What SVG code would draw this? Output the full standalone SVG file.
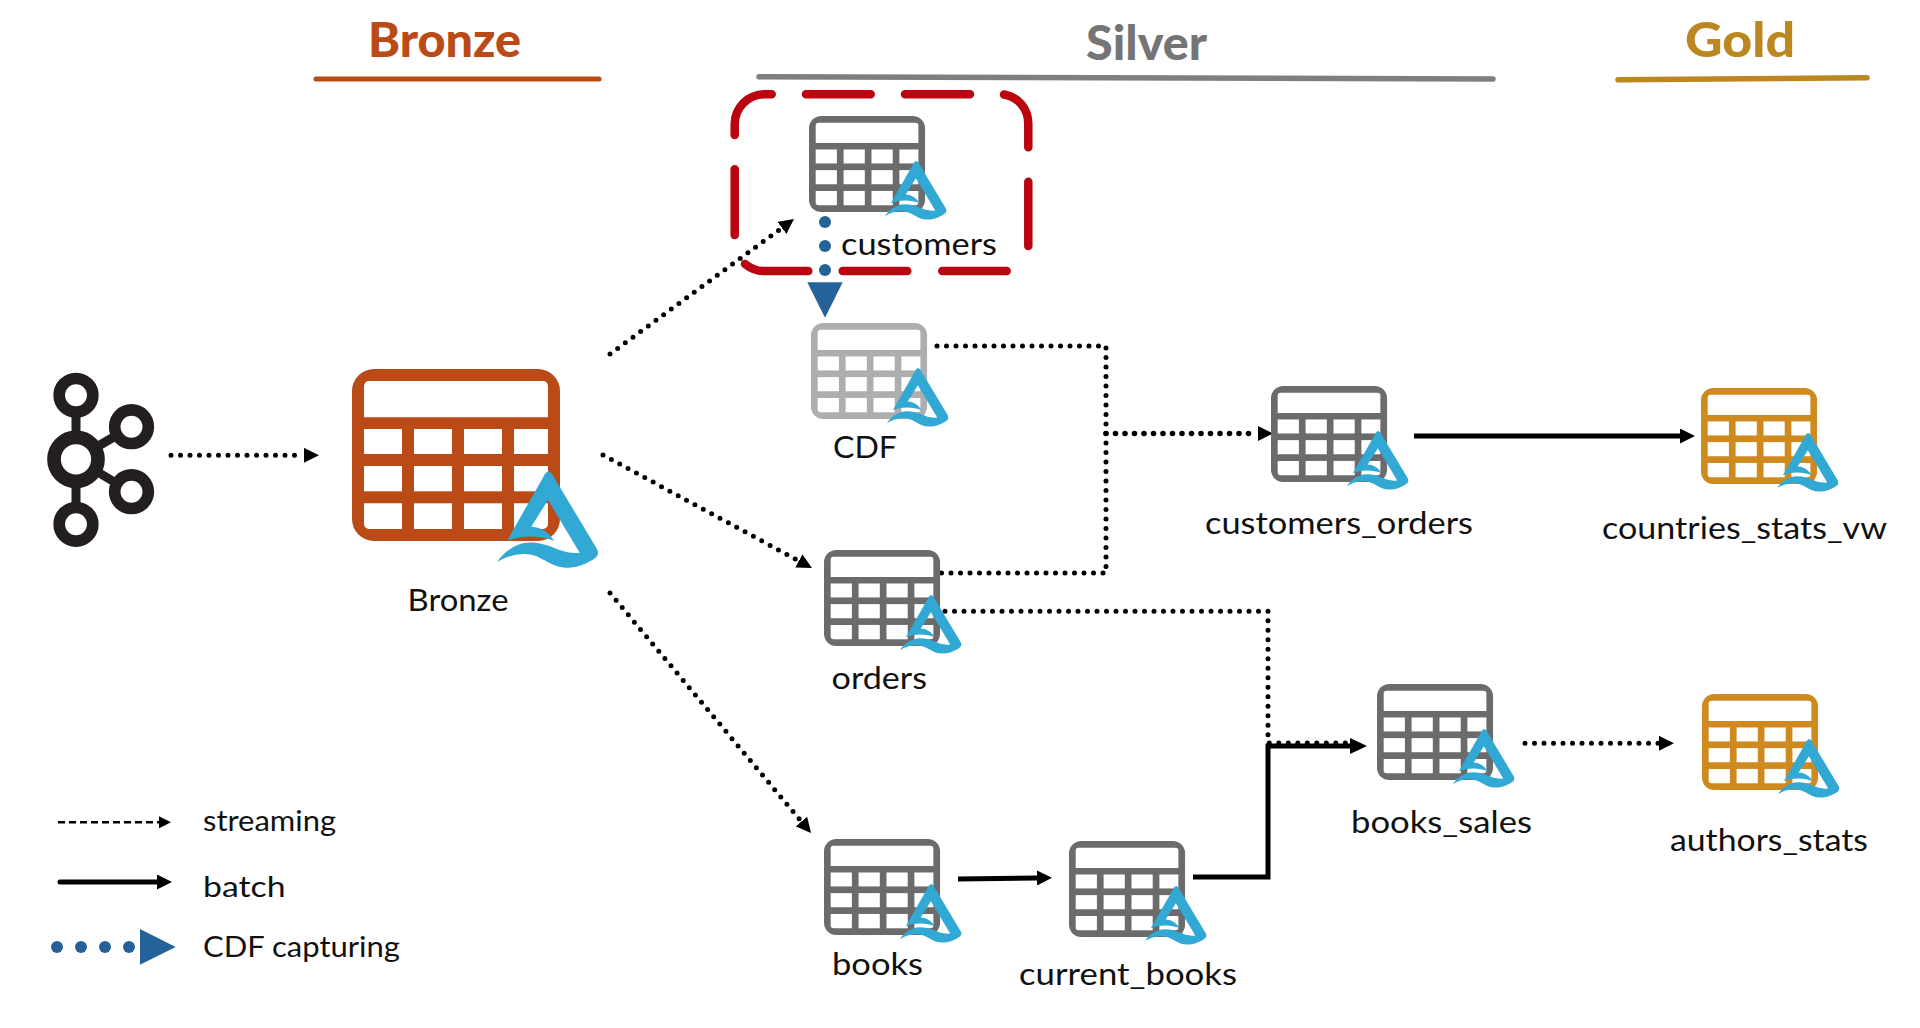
<svg xmlns="http://www.w3.org/2000/svg" xmlns:xlink="http://www.w3.org/1999/xlink" width="1920" height="1028" viewBox="0 0 1920 1028">
<style>
text{font-family:"Lato","Liberation Sans",sans-serif;}
.lbl{font-size:31px;fill:#111;}
.leg{font-size:29px;fill:#111;}
.ttl{font-size:47px;font-weight:900;}
.dot{fill:none;stroke:#000;stroke-width:5;stroke-linecap:round;stroke-dasharray:0 9.5;}
.sol{fill:none;stroke:#000;stroke-width:5;}
.cdf{fill:#256299;}
.gray{color:#6b6b6b;}.light{color:#aeaeae;}.gold{color:#cf8a1f;}
</style>
<defs>
<marker id="mS" markerUnits="userSpaceOnUse" markerWidth="15" markerHeight="15" viewBox="0 0 15 15" refX="0" refY="7.5" orient="auto"><path d="M0,0L15,7.5L0,15Z" fill="#000"/></marker>
<marker id="mB" markerUnits="userSpaceOnUse" markerWidth="17" markerHeight="16" viewBox="0 0 17 16" refX="0" refY="8" orient="auto"><path d="M0,0L17,8L0,16Z" fill="#000"/></marker>
<marker id="mT" markerUnits="userSpaceOnUse" markerWidth="12" markerHeight="12" viewBox="0 0 12 12" refX="0" refY="6" orient="auto"><path d="M0,0L12,6L0,12Z" fill="#000"/></marker>
<g id="grid">
<rect width="208" height="172" rx="22" fill="currentColor"/>
<g fill="#fff">
<path d="M12,48.3V17a5,5 0 0 1 5,-5H191a5,5 0 0 1 5,5V48.3Z"/>
<rect x="12" y="60" width="38" height="25"/><rect x="62" y="60" width="38" height="25"/><rect x="112" y="60" width="38" height="25"/><rect x="162" y="60" width="34" height="25"/>
<rect x="12" y="97" width="38" height="25.3"/><rect x="62" y="97" width="38" height="25.3"/><rect x="112" y="97" width="38" height="25.3"/><rect x="162" y="97" width="34" height="25.3"/>
<path d="M12,134.3H50V160H17a5,5 0 0 1 -5,-5Z"/><rect x="62" y="134.3" width="38" height="25.7"/><rect x="112" y="134.3" width="38" height="25.7"/><path d="M162,134.3H196V155a5,5 0 0 1 -5,5H162Z"/>
</g>
</g>
<path id="delta" fill="#31a9d4" d="M155,171.7L193,105Q196.3,100 200,105L245,180Q248,186 242,190C230,197 222,199 215,198.7C195,198 190,184 170,185C158,186 150,190 145.3,193C150,185 163,173.5 178,173.5C200,173.5 208,186 227.7,183.7L196,131L179.3,157.7C190,158 198,165 202,171.7C190,167 172,165 155,171.7Z"/>
<g id="tbl"><use href="#grid" transform="scale(.558)"/><use href="#delta" transform="translate(-12.7,-17.6) scale(.61)"/></g>
</defs>

<g id="connectors">
<path class="dot" d="M171,455.3H304" marker-end="url(#mS)"/>
<path class="dot" d="M610,354L781.9,227.9" marker-end="url(#mS)"/>
<path class="dot" d="M603,455L798.8,560.9" marker-end="url(#mS)"/>
<path class="dot" d="M610,593L801.4,821.5" marker-end="url(#mS)"/>
<path class="dot" d="M937,346H1106V573H940"/>
<path class="dot" d="M1106,433.5H1258" style="stroke-width:5.6" marker-end="url(#mS)"/>
<path class="dot" d="M945,611.3H1268V743H1350"/>
<path class="dot" d="M1525,743.3H1659" marker-end="url(#mS)"/>
<path class="sol" d="M1193,877H1268V746H1350" marker-end="url(#mB)"/>
<path class="sol" d="M958,879L1037,878" marker-end="url(#mS)"/>
<path class="sol" d="M1414,436H1680" marker-end="url(#mS)"/>
<g class="cdf"><circle cx="825" cy="222" r="6"/><circle cx="825" cy="246" r="6"/><circle cx="825" cy="270" r="6"/><path d="M807.3,282.3H842.7L825,317.7Z"/></g>
</g>

<g id="headers">
<text class="ttl" x="368" y="57" fill="#ba4a16" textLength="153" lengthAdjust="spacingAndGlyphs">Bronze</text>
<path d="M316,79H599" stroke="#ba4a16" stroke-width="5" stroke-linecap="round"/>
<text class="ttl" x="1086" y="60" fill="#757575" textLength="121" lengthAdjust="spacingAndGlyphs">Silver</text>
<path d="M759,76.7L1493,79" stroke="#7f7f7f" stroke-width="5.5" stroke-linecap="round"/>
<text class="ttl" x="1685" y="57.3" fill="#bc8720" textLength="110" lengthAdjust="spacingAndGlyphs">Gold</text>
<path d="M1618,79.7L1867,77.7" stroke="#bc8720" stroke-width="5.5" stroke-linecap="round"/>
</g>

<g id="kafka" fill="none" stroke="#231f1f">
<path stroke-width="9" d="M76,395V524M76,459L131,427M76,459L131,492"/>
<circle cx="76" cy="395.3" r="16.8" fill="#fff" stroke-width="11.7"/>
<circle cx="76" cy="524.3" r="16.8" fill="#fff" stroke-width="11.7"/>
<circle cx="131.5" cy="426.7" r="16.8" fill="#fff" stroke-width="11.7"/>
<circle cx="131.5" cy="491.7" r="16.8" fill="#fff" stroke-width="11.7"/>
<circle cx="76" cy="459.3" r="22" fill="#fff" stroke-width="13.7"/>
</g>

<g id="bronze"><use href="#grid" transform="translate(352,369)" style="color:#ba4a16"/><use href="#delta" transform="translate(352,369)"/><text class="lbl" x="407.5" y="611" textLength="101" lengthAdjust="spacingAndGlyphs">Bronze</text></g>
<g id="customers"><use href="#tbl" class="gray" transform="translate(809,116)"/><text class="lbl" x="841" y="255" textLength="156" lengthAdjust="spacingAndGlyphs">customers</text></g>
<g id="cdf"><use href="#tbl" class="light" transform="translate(811,323)"/><text class="lbl" x="833" y="458" textLength="64" lengthAdjust="spacingAndGlyphs">CDF</text></g>
<g id="orders"><use href="#tbl" class="gray" transform="translate(824,550)"/><text class="lbl" x="831.6" y="688.6" textLength="95.4" lengthAdjust="spacingAndGlyphs">orders</text></g>
<g id="books"><use href="#tbl" class="gray" transform="translate(824,839)"/><text class="lbl" x="832" y="975" textLength="91" lengthAdjust="spacingAndGlyphs">books</text></g>
<g id="current_books"><use href="#tbl" class="gray" transform="translate(1069,841)"/><text class="lbl" x="1019" y="985" textLength="218" lengthAdjust="spacingAndGlyphs">current_books</text></g>
<g id="customers_orders"><use href="#tbl" class="gray" transform="translate(1271,386)"/><text class="lbl" x="1205" y="534" textLength="268" lengthAdjust="spacingAndGlyphs">customers_orders</text></g>
<g id="books_sales"><use href="#tbl" class="gray" transform="translate(1377,684)"/><text class="lbl" x="1351" y="833" textLength="181" lengthAdjust="spacingAndGlyphs">books_sales</text></g>
<g id="countries_stats_vw"><use href="#tbl" class="gold" transform="translate(1701,388)"/><text class="lbl" x="1602" y="539" textLength="285" lengthAdjust="spacingAndGlyphs">countries_stats_vw</text></g>
<g id="authors_stats"><use href="#tbl" class="gold" transform="translate(1702,694)"/><text class="lbl" x="1670" y="851" textLength="198" lengthAdjust="spacingAndGlyphs">authors_stats</text></g>

<g id="highlight"><path fill="none" stroke="#bb0410" stroke-width="8.5" stroke-linecap="round" d="M734.7,135V124.3A30,30 0 0 1 764.7,94.3H771.7M806,94.3H870.7M905,94.3H970M1004,94.5C1018,97 1028.3,108 1028.3,124V147.3M1028.3,181.7V246M1006.7,271H942.3M907.3,271H842.7M808.3,271H763C755,271 750,268 745,264M734.7,235V169.3"/></g>

<g id="legend">
<path d="M58,822.3H159" fill="none" stroke="#000" stroke-width="2.4" stroke-dasharray="7 4" marker-end="url(#mT)"/>
<text class="leg" x="203" y="830.7" textLength="133" lengthAdjust="spacingAndGlyphs">streaming</text>
<path d="M60,882H157" fill="none" stroke="#000" stroke-width="5" stroke-linecap="round" marker-end="url(#mS)"/>
<text class="leg" x="203" y="896.7" textLength="82.5" lengthAdjust="spacingAndGlyphs">batch</text>
<g class="cdf"><circle cx="57" cy="947" r="6"/><circle cx="81" cy="947" r="6"/><circle cx="105" cy="947" r="6"/><circle cx="129" cy="947" r="6"/><path d="M140,929L175.7,947L140,964.7Z"/></g>
<text class="leg" x="203" y="957" textLength="197" lengthAdjust="spacingAndGlyphs">CDF capturing</text>
</g>
</svg>
